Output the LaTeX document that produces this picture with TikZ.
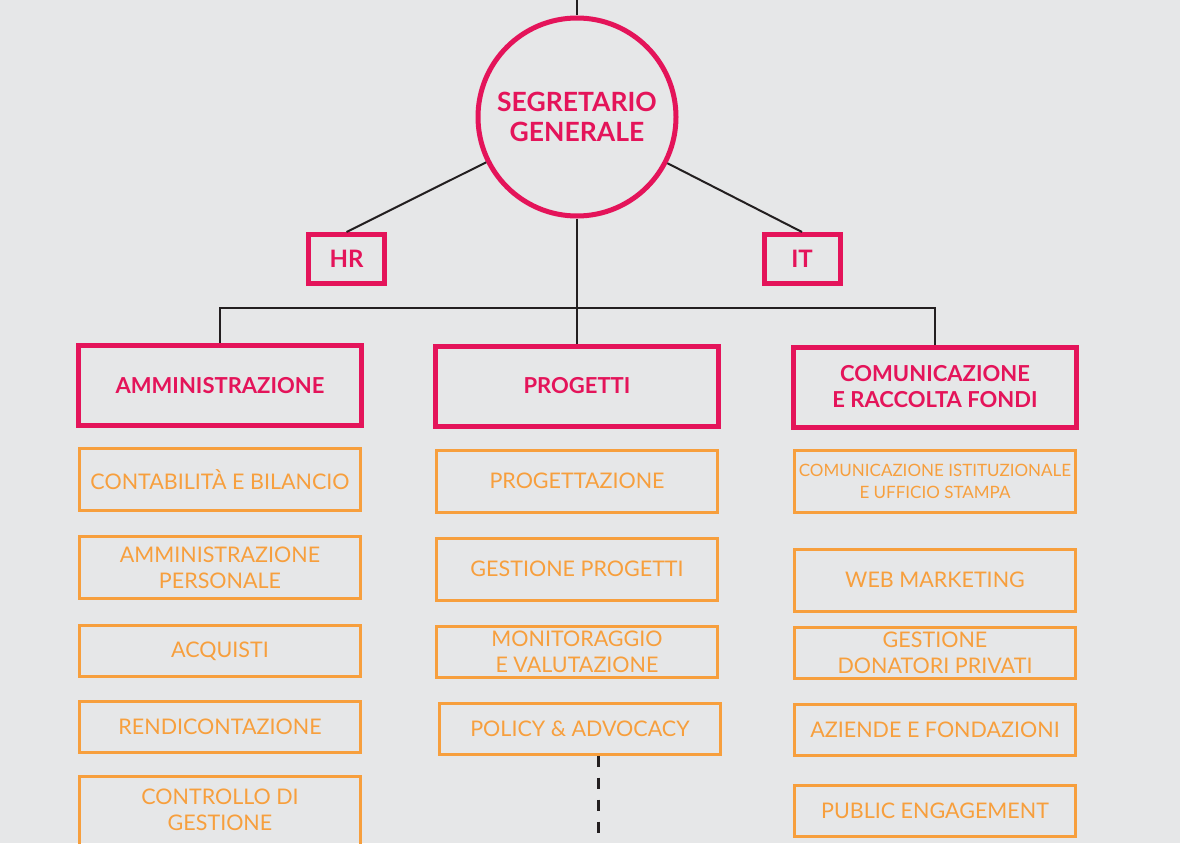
\documentclass[tikz,border=0pt]{standalone}
\usepackage{fontspec}
\setmainfont{Lato}
\usepackage{tikz}
\usetikzlibrary{positioning}
\usepackage{xcolor}
\definecolor{segback}{HTML}{E6E7E8}
\definecolor{segmagenta}{HTML}{E4145A}
\definecolor{segorange}{HTML}{F79F3D}
\definecolor{linkgray}{HTML}{231F20}
\tikzset{
	leader/.style={circle, draw=segmagenta, line width=5pt, minimum size=198pt, text=segmagenta, font=\bfseries\fontsize{26.5}{30}\selectfont, align=center},
	area/.style={rectangle, draw=segmagenta, line width=5pt, minimum width=283pt, minimum height=80pt, text=segmagenta, font=\bfseries\fontsize{22}{26}\selectfont, align=center},
	staff/.style={area, minimum width=76pt, minimum height=49pt, font=\bfseries\fontsize{24}{26}\selectfont},
	office/.style={rectangle, draw=segorange, line width=3pt, minimum width=281pt, minimum height=51pt, text=segorange, font=\fontsize{21.5}{26}\selectfont, align=center},
	office tall/.style={office, minimum height=62pt},
	link/.style={draw=linkgray, line width=2pt}
}

\begin{document}
\begin{tikzpicture}[x=1pt, y=-1pt]
	\fill[segback] (0,0) rectangle (1180,843);
	\useasboundingbox (0,0) rectangle (1180,843);

	\node[leader] (sg) at (577,117) {SEGRETARIO\\GENERALE};
	\node[staff] (hr) at (346.5,259) {HR};
	\node[staff] (it) at (802,259) {IT};

	\node[area] (amm) at (220,385.5) {AMMINISTRAZIONE};
	\node[area] (prog) at (577,386) {PROGETTI};
	\node[area] (com) at (935,387) {COMUNICAZIONE\\E RACCOLTA FONDI};

	\coordinate (top) at (577,0);
	\coordinate (bus) at (577,308);
	\draw[link] (top) -- (sg.north);
	\draw[link] (sg) -- (hr.north);
	\draw[link] (sg) -- (it.north);
	\draw[link] (sg.south) -- (prog.north);
	\draw[link] (amm.north) |- (bus) -| (com.north);

	% amministrazione
	\node[office tall] (contab) [below=19pt of amm] {CONTABILITÀ E BILANCIO};
	\node[office tall] (personale) [below=23pt of contab] {AMMINISTRAZIONE\\PERSONALE};
	\node[office] (acquisti) [below=24pt of personale] {ACQUISTI};
	\node[office] (rendic) [below=22pt of acquisti] {RENDICONTAZIONE};
	\node[office, minimum height=76pt, text depth=10pt] (controllo) [below=21pt of rendic] {CONTROLLO DI\\GESTIONE};

	% progetti
	\node[office tall] (progettazione) [below=20pt of prog] {PROGETTAZIONE};
	\node[office tall] (gestprog) [below=23pt of progettazione] {GESTIONE PROGETTI};
	\node[office] (monitor) [below=23pt of gestprog] {MONITORAGGIO\\E VALUTAZIONE};
	\node[office] (policy) [below=23pt of monitor, xshift=3pt] {POLICY \& ADVOCACY};
	\coordinate (more) at (598,843);
	\draw[link, line width=3pt, dash pattern=on 11pt off 11pt] (policy.south -| more) -- (more);

	% comunicazione
	\node[office tall, font=\fontsize{17}{22}\selectfont] (comist) [below=19pt of com] {COMUNICAZIONE ISTITUZIONALE\\E UFFICIO STAMPA};
	\node[office tall] (web) [below=34pt of comist] {WEB MARKETING};
	\node[office] (donatori) [below=13pt of web] {GESTIONE\\DONATORI PRIVATI};
	\node[office] (aziende) [below=23pt of donatori] {AZIENDE E FONDAZIONI};
	\node[office] (public) [below=27pt of aziende] {PUBLIC ENGAGEMENT};
\end{tikzpicture}
\end{document}
